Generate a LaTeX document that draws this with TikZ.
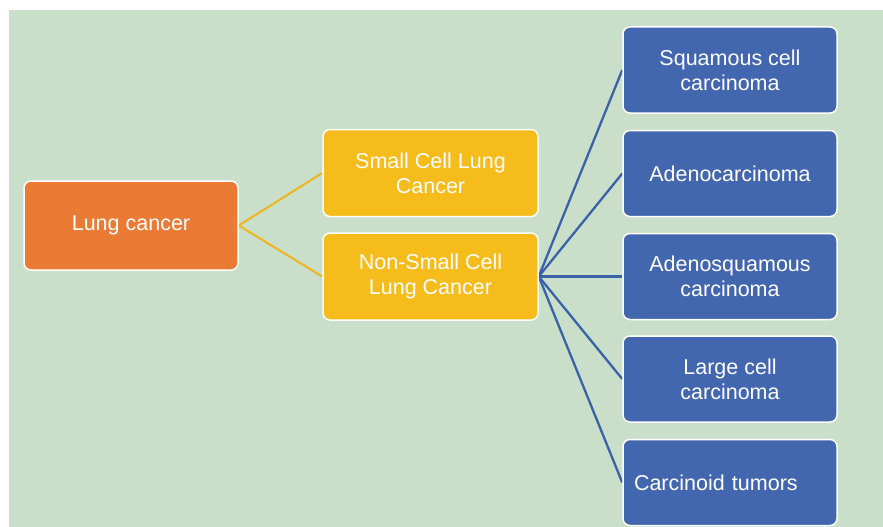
\documentclass[tikz,border=0pt]{standalone}
\usepackage{fontspec}
\setmainfont{Liberation Sans}
\usetikzlibrary{backgrounds}
\definecolor{bggreen}{RGB}{201,223,201}
\definecolor{boxorange}{RGB}{233,123,53}
\definecolor{boxyellow}{RGB}{245,188,28}
\definecolor{boxblue}{RGB}{67,103,175}
\definecolor{lineyellow}{RGB}{240,181,30}
\definecolor{lineblue}{RGB}{59,98,168}

\begin{document}
\begin{tikzpicture}[x=1pt,y=-1pt,
  box/.style={draw=white,line width=1.5pt,rounded corners=7pt,text=white,align=center,
    font=\fontsize{21.5}{25}\selectfont,inner sep=0pt},
  rootbox/.style={box,fill=boxorange,minimum width=214pt,minimum height=89pt},
  typebox/.style={box,fill=boxyellow,minimum width=215pt,minimum height=87pt},
  subbox/.style={box,fill=boxblue,minimum width=214pt,minimum height=86pt},
  yline/.style={lineyellow,line width=2pt},
  bline/.style={lineblue,line width=2.3pt}]
\useasboundingbox (0,0) rectangle (883,527);
\node[rootbox] (lung) at (131,225.5) {Lung cancer};
\node[typebox] (sclc) at (430.5,173) {Small Cell Lung\\Cancer};
\node[typebox] (nsclc) at (430.5,276.5) {Non-Small Cell\\Lung Cancer};
\node[subbox] (squam) at (730,70) {Squamous cell\\carcinoma};
\node[subbox] (adeno) at (730,173.5) {Adenocarcinoma};
\node[subbox] (adsq) at (730,276.5) {Adenosquamous\\carcinoma};
\node[subbox] (large) at (730,379) {Large cell\\carcinoma};
\node[subbox,align=left,text width=192pt,inner xsep=11pt] (carc) at (730,482.5) {Carcinoid tumors};
\begin{scope}[on background layer]
\fill[white] (0,0) rectangle (883,527);
\fill[bggreen] (9,10) rectangle (883,527);
\draw[yline] (lung.east) -- (sclc.west);
\draw[yline] (lung.east) -- (nsclc.west);
\draw[bline] (nsclc.east) -- (squam.west);
\draw[bline] (nsclc.east) -- (adeno.west);
\draw[bline] (nsclc.east) -- (adsq.west);
\draw[bline] (nsclc.east) -- (large.west);
\draw[bline] (nsclc.east) -- (carc.west);
\end{scope}
\end{tikzpicture}
\end{document}
